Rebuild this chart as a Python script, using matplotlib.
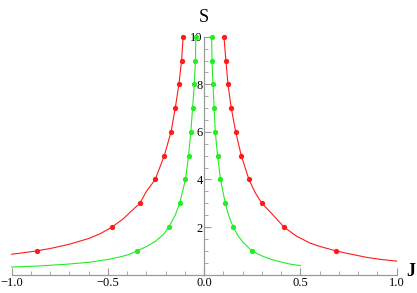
import numpy as np
import matplotlib.pyplot as plt
from matplotlib.ticker import MultipleLocator, FixedLocator

# dots, S = 1..10
S_dots = np.arange(1, 11)
red_left_J = [-0.870, -0.479, -0.334, -0.254, -0.207, -0.172, -0.150, -0.131, -0.117, -0.109]
red_right_J = [0.685, 0.415, 0.300, 0.233, 0.193, 0.164, 0.141, 0.124, 0.113, 0.103]
green_left_J = [-0.348, -0.184, -0.127, -0.097, -0.081, -0.069, -0.060, -0.051, -0.045, -0.043]
green_right_J = [0.248, 0.151, 0.110, 0.085, 0.070, 0.058, 0.052, 0.046, 0.041, 0.039]

# extra points along the curves (tails and bends)
red_left_tail_J = [-1.0, -0.95, -0.8, -0.7, -0.6, -0.54, -0.42, -0.38, -0.30]
red_left_tail_S = [0.86, 0.91, 1.10, 1.28, 1.52, 1.72, 2.35, 2.66, 3.5]
red_right_tail_J = [1.0, 0.92, 0.85, 0.77, 0.6, 0.55, 0.48, 0.35, 0.265]
red_right_tail_S = [0.57, 0.64, 0.72, 0.85, 1.19, 1.33, 1.62, 2.58, 3.45]
green_left_tail_J = [-1.0, -0.85, -0.714, -0.6, -0.5, -0.43, -0.39, -0.3, -0.25, -0.21, -0.15]
green_left_tail_S = [0.32, 0.37, 0.44, 0.52, 0.64, 0.76, 0.85, 1.18, 1.42, 1.70, 2.5]
green_right_tail_J = [0.5, 0.45, 0.4, 0.35, 0.3, 0.2, 0.175, 0.127]
green_right_tail_S = [0.38, 0.44, 0.53, 0.64, 0.79, 1.38, 1.65, 2.5]

RED = '#ff1a1a'
GREEN = '#22ee22'

plt.rcParams['font.family'] = ['Liberation Serif', 'DejaVu Serif']

fig = plt.figure(figsize=(4.17, 2.93), dpi=100)
ax = fig.add_axes([0.028, 0.0625, 0.923, 0.8122])


def branch(dot_J, tail_J, tail_S, color):
    J = list(tail_J) + list(dot_J)
    S = list(tail_S) + list(S_dots)
    order = np.argsort(S)
    J = np.array(J)[order]
    S = np.array(S)[order]
    ax.plot(J, S, color=color, lw=0.8, clip_on=False)
    ax.plot(dot_J, S_dots, 'o', color=color, ms=3.8, mew=0, clip_on=False)


branch(red_left_J, red_left_tail_J, red_left_tail_S, RED)
branch(red_right_J, red_right_tail_J, red_right_tail_S, RED)
branch(green_left_J, green_left_tail_J, green_left_tail_S, GREEN)
branch(green_right_J, green_right_tail_J, green_right_tail_S, GREEN)

ax.set_xlim(-1, 1)
ax.set_ylim(0, 10)

for side in ['top', 'right']:
    ax.spines[side].set_visible(False)
ax.spines['left'].set_position(('data', 0))
ax.spines['bottom'].set_position(('data', 0))
for side in ['left', 'bottom']:
    ax.spines[side].set_color('#999999')
    ax.spines[side].set_linewidth(0.9)

ax.xaxis.set_major_locator(FixedLocator([-1.0, -0.5, 0.0, 0.5, 1.0]))
ax.xaxis.set_minor_locator(MultipleLocator(0.1))
ax.set_xticklabels(['\u22121.0', '\u22120.5', '0.0', '0.5', '1.0'])
ax.yaxis.set_major_locator(FixedLocator([2, 4, 6, 8, 10]))
ax.yaxis.set_minor_locator(MultipleLocator(0.5))
ax.set_yticklabels(['2', '4', '6', '8', '10'])

ax.tick_params(which='both', direction='in', color='#999999', labelsize=9)
ax.tick_params(which='major', length=5, width=0.8, pad=2)
ax.tick_params(which='minor', length=3, width=0.6)
ax.tick_params(axis='y', pad=1)

fig.text(0.488, 0.940, 'S', fontsize=13, ha='center', va='center')
fig.text(0.985, 0.072, 'J', fontsize=13, fontweight='bold', ha='center', va='center')

fig.savefig('out.png', dpi=100)
